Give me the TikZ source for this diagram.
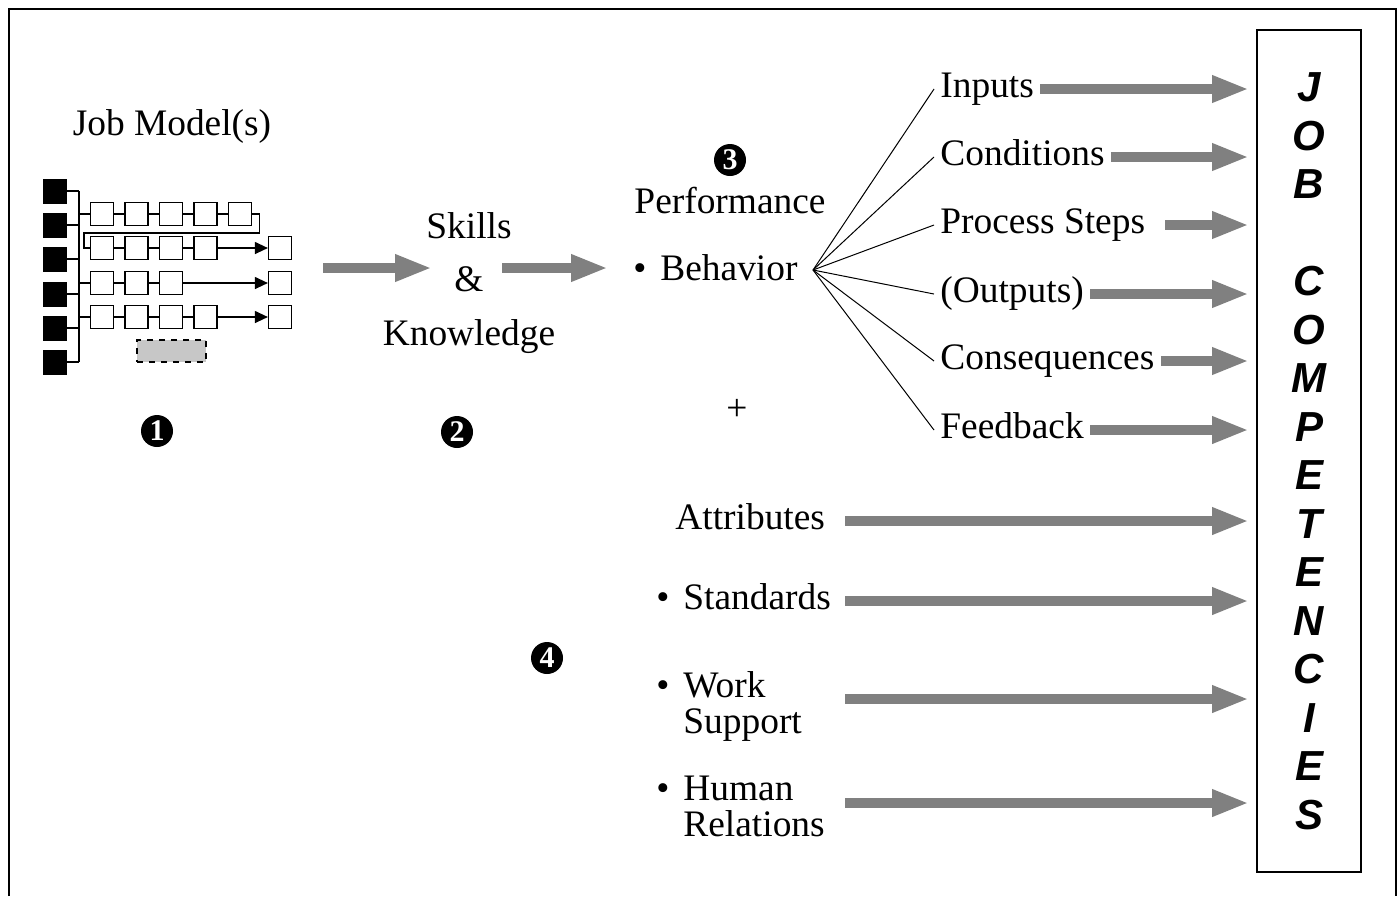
\documentclass[tikz,border=0pt]{standalone}
\usepackage{fontspec}
\setmainfont{Liberation Serif}
\newfontfamily\capsfont{Liberation Sans}
\usetikzlibrary{arrows.meta,positioning}
\definecolor{flowgray}{RGB}{128,128,128}
\tikzset{>=latex}
\tikzstyle{txt}=[font=\fontsize{18.7pt}{18pt}\selectfont,inner sep=3pt]
\tikzstyle{item}=[txt,anchor=west,text height=12.8pt,text depth=4pt]
\tikzstyle{flow}=[draw=flowgray,line width=5pt,-{Triangle[length=18.5pt,width=12.5pt]}]
\tikzstyle{badge}=[circle,fill=black,text=white,inner sep=0pt,minimum size=16pt,font=\fontsize{15pt}{15pt}\selectfont\bfseries]
\tikzstyle{head}=[rectangle,fill=black,minimum width=12pt,minimum height=12.5pt,inner sep=0pt]
\tikzstyle{task}=[rectangle,draw,line width=0.6pt,minimum size=11.5pt,inner sep=0pt]
\tikzstyle{link}=[line width=0.6pt]

\begin{document}
\begin{tikzpicture}[x=0.5pt,y=-0.5pt]
	\useasboundingbox (0,0) rectangle (1400,896);
	\draw[line width=1.2pt] (9,896) -- (9,9) -- (1396,9) -- (1396,896);

	% job model: heads, bus and task rows
	\node[txt,anchor=base] (jobmodel) at (172,135) {Job Model(s)};
	\foreach \i/\y in {1/191,2/225,3/259,4/294,5/328,6/362}
		\node[head] (blk\i) at (55,\y) {};
	\coordinate (bustop) at (79,191);
	\coordinate (busbot) at (79,362);
	\draw[link] (bustop) -- (busbot);
	\foreach \i in {1,...,6}
		\draw[link] (blk\i.east) -- (blk\i.east -| bustop);

	\foreach \r/\y/\n in {1/214/5,2/248/4,3/283/3,4/317/4} {
		\foreach \c in {1,...,\n}
			\node[task] (s\r-\c) at ({67.5+34.5*\c},\y) {};
		\foreach \c [remember=\c as \p (initially 1)] in {2,...,\n}
			\draw[link] (s\r-\p) -- (s\r-\c);
	}
	\foreach \r/\y/\n in {2/248/4,3/283/3,4/317/4} {
		\node[task] (e\r) at (280,\y) {};
		\draw[link,-{Triangle[length=6.5pt,width=6pt]}] (s\r-\n) -- (e\r);
	}
	\foreach \r in {1,3,4}
		\draw[link] (s\r-1.west -| bustop) -- (s\r-1.west);
	\draw[link] (s1-5.east) -- ++(7.5,0) |- (84,233) |- (s2-1.west);
	\node[draw,dashed,fill=black!22,line width=0.6pt,minimum width=34.5pt,minimum height=11pt,inner sep=0pt] (slot) at (171.5,351) {};

	\node[badge] (n1) at (157,431) {1};
	\node[badge] (n2) at (457,432) {2};
	\node[badge] (n3) at (730,160) {3};
	\node[badge] (n4) at (547,658) {4};

	% skills and performance
	\node[txt,align=center] (skills) at (469,283) {Skills\\[8.75pt]\&\\[8.75pt]Knowledge};
	\draw[flow] (323,268) -- (432,268);
	\draw[flow] (502,268) -- (608,268);
	\node[txt,anchor=base] (perf) at (730,213) {Performance};
	\node[item] (beh) at (654,272) {\llap{\textbullet\hspace{7pt}}Behavior};
	\coordinate (fan) at (813,270);
	\node[txt] (plus) at (737,410) {+};

	% competency column
	\node[draw,line width=1pt,minimum width=52pt,minimum height=421pt,inner sep=0pt,align=center,
		font=\capsfont\bfseries\itshape\fontsize{21pt}{24.25pt}\selectfont] (jobbox) at (1309,451)
		{J\\O\\B\\[24.25pt]C\\O\\M\\P\\E\\T\\E\\N\\C\\I\\E\\S};

	\node[item] (inputs) at (934,89) {Inputs};
	\node[item] (cond) at (934,157) {Conditions};
	\node[item] (proc) at (934,225) {Process Steps};
	\node[item] (outs) at (934,294) {(Outputs)};
	\node[item] (cons) at (934,361) {Consequences};
	\node[item] (fdbk) at (934,430) {Feedback};

	\foreach \t in {inputs,cond,proc,outs,cons,fdbk} {
		\draw[line width=0.5pt] (fan) -- (\t.west);
	}
	\foreach \t in {inputs,cond,outs,cons,fdbk} {
		\draw[flow,shorten >=3.5pt] (\t.east) -- (\t.east -| jobbox.west);
	}
	\draw[flow,shorten >=3.5pt,shorten <=7pt] (proc.east) -- (proc.east -| jobbox.west);

	% attributes
	\node[item] (attr) at (669,521) {Attributes};
	\node[item] (stds) at (677,601) {\llap{\textbullet\hspace{7pt}}Standards};
	\node[txt,align=left,anchor=west] (work) at (677,706) {\llap{\textbullet\hspace{7pt}}Work\\Support};
	\node[txt,align=left,anchor=west] (human) at (677,806) {\llap{\textbullet\hspace{7pt}}Human\\Relations};

	\coordinate (colx) at (845,0);
	\coordinate (wk) at (845,699);
	\coordinate (hr) at (845,803);
	\draw[flow,shorten >=3.5pt] (attr.east -| colx) -- (attr.east -| jobbox.west);
	\draw[flow,shorten >=3.5pt] (stds.east -| colx) -- (stds.east -| jobbox.west);
	\draw[flow,shorten >=3.5pt] (wk) -- (wk -| jobbox.west);
	\draw[flow,shorten >=3.5pt] (hr) -- (hr -| jobbox.west);
\end{tikzpicture}
\end{document}
